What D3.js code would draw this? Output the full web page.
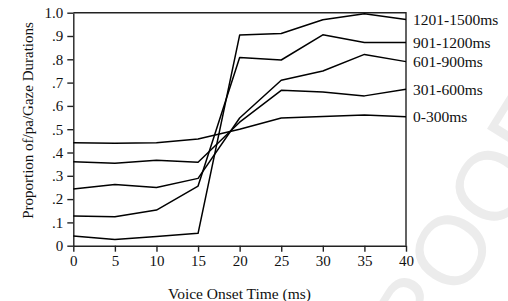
<!DOCTYPE html>
<html>
<head>
<meta charset="utf-8">
<script src="https://cdn.jsdelivr.net/npm/d3@7"></script>
<style>
	body { margin: 0; background: #fff; }
	svg { display: block; font-family: 'Liberation Serif', 'Times New Roman', serif; }
	.axis path, .axis line { stroke: #222; stroke-width: 1.4; }
	.axis text { font-size: 15px; fill: #111; font-family: 'Liberation Serif', serif; }
</style>
</head>
<body>
<svg width="508" height="301"></svg>
<script>
// voice onset time steps (ms)
const vot = [0, 5, 10, 15, 20, 25, 30, 35, 40];

const seriesNames = ['0-300ms', '301-600ms', '601-900ms', '901-1200ms', '1201-1500ms'];

const s0to300 = [0.442, 0.440, 0.442, 0.458, 0.500, 0.548, 0.555, 0.561, 0.553];
const s301to600 = [0.360, 0.354, 0.367, 0.358, 0.530, 0.667, 0.660, 0.643, 0.671];
const s601to900 = [0.243, 0.263, 0.250, 0.289, 0.548, 0.710, 0.750, 0.821, 0.790];
const s901to1200 = [0.127, 0.124, 0.153, 0.256, 0.808, 0.797, 0.905, 0.872, 0.872];
const s1201to1500 = [0.042, 0.027, 0.039, 0.053, 0.904, 0.911, 0.970, 0.995, 0.971];

const xTicks = [0, 5, 10, 15, 20, 25, 30, 35, 40];
const yTicks = [0, 0.1, 0.2, 0.3, 0.4, 0.5, 0.6, 0.7, 0.8, 0.9, 1.0];

const allSeries = [s0to300, s301to600, s601to900, s901to1200, s1201to1500];

const svg = d3.select('svg');

// faint watermark behind the chart
svg.append('text')
	.attr('transform', 'translate(387,416) rotate(-58)')
	.attr('font-family', 'Liberation Sans, Arial, sans-serif')
	.attr('font-size', 98)
	.attr('fill', '#ececec')
	.text('PROOF');

const x = d3.scaleLinear().domain([0, 40]).range([73.3, 406]);
const y = d3.scaleLinear().domain([0, 1]).range([245.7, 12.7]);

// frame top and right
svg.append('path')
	.attr('d', `M${x(0)},${y(1)}H${x(40)}V${y(0)}`)
	.attr('fill', 'none')
	.attr('stroke', '#222')
	.attr('stroke-width', 1.4);

svg.append('g')
	.attr('class', 'axis')
	.attr('transform', `translate(0,${y(0)})`)
	.call(d3.axisBottom(x).tickValues(xTicks).tickSize(6).tickSizeOuter(0).tickPadding(4));

svg.append('g')
	.attr('class', 'axis')
	.attr('transform', `translate(${x(0)},0)`)
	.call(d3.axisLeft(y).tickValues(yTicks).tickSize(6).tickSizeOuter(0).tickPadding(4)
		.tickFormat(d => d === 0 ? '0' : d === 1 ? '1.0' : d3.format('.1f')(d).replace(/^0/, '')));

const line = d3.line()
	.x((d, i) => x(vot[i]))
	.y(d => y(d));

svg.append('g')
	.selectAll('path')
	.data(allSeries)
	.enter().append('path')
	.attr('d', line)
	.attr('fill', 'none')
	.attr('stroke', '#000')
	.attr('stroke-width', 1.5)
	.attr('stroke-linejoin', 'round');

// labels at the end of each line
svg.append('g')
	.selectAll('text')
	.data(allSeries)
	.enter().append('text')
	.attr('x', 413)
	.attr('y', d => y(d[d.length - 1]))
	.attr('dy', '0.35em')
	.attr('font-size', 15.5)
	.attr('fill', '#111')
	.text((d, i) => seriesNames[i]);

svg.append('text')
	.attr('x', 239.5)
	.attr('y', 299)
	.attr('text-anchor', 'middle')
	.attr('font-size', 15.5)
	.attr('fill', '#111')
	.text('Voice Onset Time (ms)');

svg.append('text')
	.attr('transform', 'translate(33,120.5) rotate(-90)')
	.attr('text-anchor', 'middle')
	.attr('font-size', 15)
	.attr('fill', '#111')
	.text('Proportion of/pa/Gaze Durations');
</script>
</body>
</html>
